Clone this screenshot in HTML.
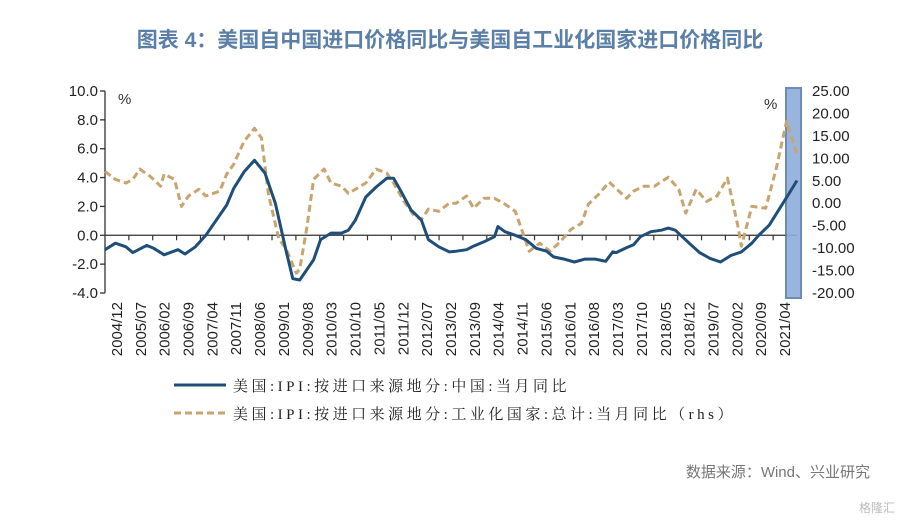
<!DOCTYPE html>
<html><head><meta charset="utf-8"><style>
body{margin:0;background:#fff;width:900px;height:520px;overflow:hidden;font-family:"Liberation Sans","Noto Sans CJK SC",sans-serif;}
</style></head><body>
<svg width="900" height="520" id="chart" xmlns="http://www.w3.org/2000/svg">
<text x="450" y="47" text-anchor="middle" font-size="21" font-weight="bold" fill="#5b7fa6" font-family="Liberation Sans, Noto Sans CJK SC, sans-serif">图表 4：美国自中国进口价格同比与美国自工业化国家进口价格同比</text>
<g id="axes"></g>
<g id="marks"></g>
<text x="118" y="104" font-size="15" fill="#333">%</text>
<text x="764" y="109" font-size="15" fill="#333">%</text>
<g>
<line x1="174" y1="385" x2="226" y2="385" stroke="#1f4e79" stroke-width="3"/>
<text x="233" y="391" font-size="15" letter-spacing="3.5" fill="#222" font-family="Liberation Serif, Noto Serif CJK SC, serif">美国:IPI:按进口来源地分:中国:当月同比</text>
<line x1="174" y1="413" x2="226" y2="413" stroke="#c8a46e" stroke-width="3" stroke-dasharray="7,4"/>
<text x="233" y="419" font-size="15" letter-spacing="3.5" fill="#222" font-family="Liberation Serif, Noto Serif CJK SC, serif">美国:IPI:按进口来源地分:工业化国家:总计:当月同比（rhs）</text>
</g>
<text x="870" y="477" text-anchor="end" font-size="15" fill="#777">数据来源：Wind、兴业研究</text>
<text x="895" y="512" text-anchor="end" font-size="12" fill="#bbb">格隆汇</text>
</svg>
<script>
const xLabels=["2004/12","2005/07","2006/02","2006/09","2007/04","2007/11","2008/06","2009/01","2009/08","2010/03","2010/10","2011/05","2011/12","2012/07","2013/02","2013/09","2014/04","2014/11","2015/06","2016/01","2016/08","2017/03","2017/10","2018/05","2018/12","2019/07","2020/02","2020/09","2021/04"];
const leftTicks=[10,8,6,4,2,0,-2,-4];
const rightTicks=[25,20,15,10,5,0,-5,-10,-15,-20];
const chinaMonths=[0,3,6,8,12,14,17,21,23,26,29,32,35,37,40,43,46,49,52,54,56,58,60,62,65,68,70,72,75,78,81,83,85,88,91,93,96,99,101,104,106,109,112,113,115,118,121,124,127,129,132,135,138,141,144,146,147,150,152,154,157,160,162,164,166,168,171,174,177,180,183,186,188,191,194,197,199];
const chinaValues=[-1.0,-0.55,-0.8,-1.2,-0.7,-0.9,-1.35,-1.0,-1.3,-0.8,0,1.05,2.1,3.25,4.4,5.2,4.3,2.2,-1.0,-3.0,-3.1,-2.4,-1.7,-0.3,0.15,0.15,0.35,1.05,2.65,3.35,3.95,3.95,3.1,1.75,1.05,-0.3,-0.8,-1.15,-1.1,-1.0,-0.75,-0.45,-0.1,0.6,0.25,0,-0.3,-0.9,-1.1,-1.5,-1.65,-1.85,-1.65,-1.65,-1.8,-1.15,-1.2,-0.85,-0.65,-0.1,0.25,0.35,0.5,0.35,-0.1,-0.55,-1.2,-1.6,-1.85,-1.4,-1.15,-0.55,0,0.7,1.85,3.0,3.8];
const indMonths=[0,3,6,8,10,13,16,17,20,22,24,27,29,33,35,37,40,43,45,47,50,52,55,56,58,60,63,65,68,70,72,75,78,81,83,86,89,91,93,96,99,101,104,106,109,112,115,118,121,122,125,128,131,134,137,139,142,145,150,152,155,158,162,165,167,170,173,176,179,182,183,186,190,193,196,199];
const indValues=[7.1,5.3,4.5,5.3,7.6,6.0,3.8,6.5,5.3,-0.7,1.6,3.1,1.6,2.7,6.5,8.7,13.8,16.7,14.5,2.0,-8.0,-10,-15.6,-14.7,-5.6,5.3,7.6,4.5,3.8,2.2,3.1,4.5,7.6,6.7,4.5,0.4,-2.9,-3.6,-1.3,-1.8,0,0,1.6,-1.1,1.1,1.1,-0.2,-1.8,-8.5,-10.7,-8.9,-10.7,-8.5,-5.8,-4.5,-0.2,2.0,4.7,1.1,2.7,3.8,3.8,5.8,3.1,-2.2,3.1,0.4,1.6,5.6,-5.1,-9.6,-0.7,-1.1,7.6,18.3,10.9];
const NS="http://www.w3.org/2000/svg";
const X0=105,X1=797,Y0=91,Y1=293;
const xs=m=>X0+m*(X1-X0)/199;
const yL=v=>Y1-(v+4)*(Y1-Y0)/14;
const yR=v=>Y1-(v+20)*(Y1-Y0)/45;
function mk(t,a,p){const e=document.createElementNS(NS,t);for(const k in a)e.setAttribute(k,a[k]);p.appendChild(e);return e;}
const axes=document.getElementById('axes'),marks=document.getElementById('marks');
let e;
e=mk('line',{x1:X0,y1:Y0,x2:X0,y2:Y1,stroke:'#333','stroke-width':1.3},axes);


leftTicks.forEach(v=>{
 e=mk('line',{x1:X0-5,y1:yL(v),x2:X0,y2:yL(v),stroke:'#333','stroke-width':1.3},axes);
 
 
 e=mk('text',{x:98,y:yL(v)+5,'text-anchor':'end','font-size':15,fill:'#222'},axes);e.textContent=v.toFixed(1);
 
 
});
rightTicks.forEach(v=>{
 e=mk('text',{x:812,y:yR(v)+5,'font-size':15,fill:'#222'},axes);e.textContent=v.toFixed(2);
 
 
});
e=mk('line',{x1:X0,y1:yL(0),x2:X1,y2:yL(0),stroke:'#333','stroke-width':1.2},axes);


const step=(X1-X0)/xLabels.length;
xLabels.forEach((l,i)=>{
 if(i>0){e=mk('line',{x1:X0+i*step,y1:yL(0),x2:X0+i*step,y2:yL(0)+5,stroke:'#333','stroke-width':1.2},axes);
 
 }
 const cx=X0+(i+0.5)*step+5;
 e=mk('text',{x:0,y:0,'font-size':15,fill:'#222','text-anchor':'end',transform:`translate(${cx},302) rotate(-90)`},axes);e.textContent=l;
 
 
});
e=mk('rect',{x:786,y:88,width:15,height:210,fill:'#8eaedb',stroke:'#5d7fae','stroke-width':2,opacity:0.9},marks);


let d=indMonths.map((m,i)=>(i?'L':'M')+xs(m).toFixed(1)+','+yR(indValues[i]).toFixed(1)).join('');
e=mk('path',{d:d,fill:'none',stroke:'#c8a46e','stroke-width':3,'stroke-dasharray':'7,4','stroke-linejoin':'round'},marks);


d=chinaMonths.map((m,i)=>(i?'L':'M')+xs(m).toFixed(1)+','+yL(chinaValues[i]).toFixed(1)).join('');
e=mk('path',{d:d,fill:'none',stroke:'#1f4e79','stroke-width':3,'stroke-linejoin':'round'},marks);


</script>
</body></html>
